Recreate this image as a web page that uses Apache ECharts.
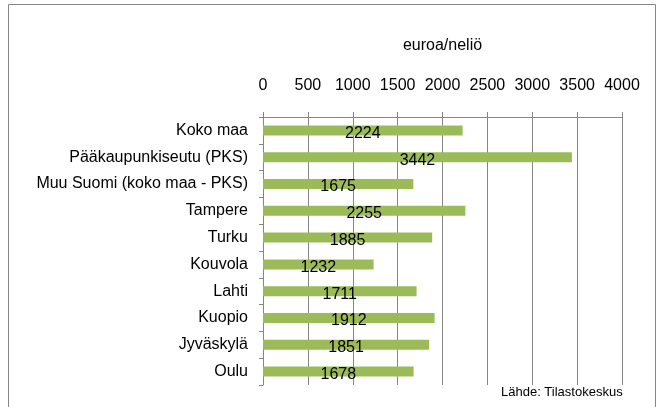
<!DOCTYPE html>
<html>
<head>
<meta charset="utf-8">
<script src="https://cdn.jsdelivr.net/npm/echarts@6/dist/echarts.min.js"></script>
<style>
  html, body { margin: 0; padding: 0; background: #fff; }
  #echart { width: 664px; height: 407px; }
</style>
</head>
<body>
<div id="echart"></div>
<script>
// kaupungit ja hinnat (euroa/neliö)
var categories = ['Koko maa', 'Pääkaupunkiseutu (PKS)', 'Muu Suomi (koko maa - PKS)', 'Tampere', 'Turku',
  'Kouvola', 'Lahti', 'Kuopio', 'Jyväskylä', 'Oulu'];
var prices = [2224, 3442, 1675, 2255, 1885, 1232, 1711, 1912, 1851, 1678];
var axisMin = 0, axisMax = 4000, axisStep = 500;

var font = 'Liberation Sans, sans-serif';
var myChart = echarts.init(document.getElementById('echart'));
var option = {
  animation: false,
  grid: { left: 263, right: 42, top: 117, bottom: 22 },
  graphic: [
    { type: 'rect', shape: { x: 8.5, y: 4.5, width: 647, height: 420 },
      style: { fill: 'none', stroke: '#878787', lineWidth: 1 } },
    { type: 'text', left: 501, top: 386,
      style: { text: 'Lähde: Tilastokeskus', fontSize: 13, fontFamily: font, fill: '#000' } }
  ],
  xAxis: {
    type: 'value',
    position: 'top',
    min: axisMin, max: axisMax, interval: axisStep,
    name: 'euroa/neliö',
    nameLocation: 'middle',
    nameGap: 63,
    nameTextStyle: { fontSize: 16, fontFamily: font, color: '#000' },
    axisLine: { show: true, lineStyle: { color: '#868686' } },
    axisTick: { show: true, length: 5, lineStyle: { color: '#868686' } },
    axisLabel: { margin: 23, fontSize: 16, fontFamily: font, color: '#000',
      formatter: function (v) { return String(v); } },
    splitLine: { show: true, lineStyle: { color: '#868686' } }
  },
  yAxis: {
    type: 'category',
    inverse: true,
    data: categories,
    axisLine: { show: true, lineStyle: { color: '#868686' } },
    axisTick: { show: true, length: 4, lineStyle: { color: '#868686' } },
    axisLabel: { margin: 15, fontSize: 16, fontFamily: font, color: '#000' }
  },
  series: [{
    type: 'bar',
    data: prices,
    barWidth: 10,
    itemStyle: { color: '#9BBB59' },
    label: {
      show: true, position: 'inside', offset: [0, 3],
      fontSize: 16, fontFamily: font, color: '#000'
    }
  }]
};
myChart.setOption(option);
</script>
</body>
</html>
